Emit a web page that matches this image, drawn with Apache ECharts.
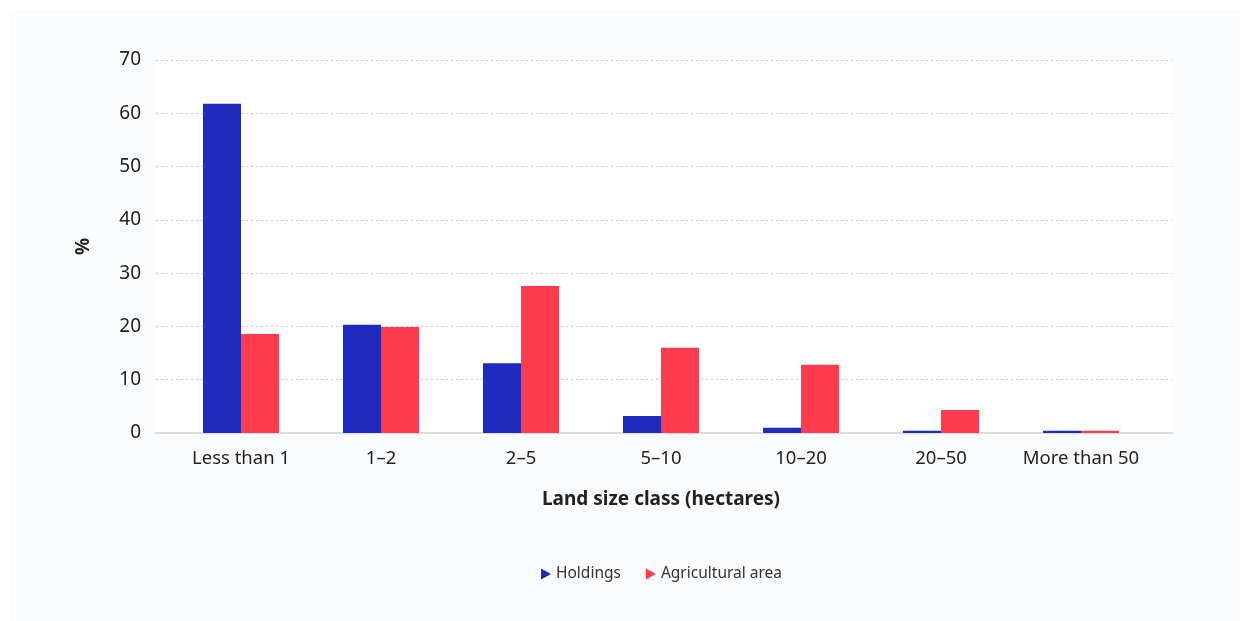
<!DOCTYPE html>
<html>
<head>
<meta charset="utf-8">
<script src="https://cdn.jsdelivr.net/npm/echarts@6/dist/echarts.min.js"></script>
<style>
  html, body { margin: 0; padding: 0; background: #ffffff; }
  #chart { position: absolute; left: 9px; top: 10px; width: 1231px; height: 611px; }
</style>
</head>
<body>
<div id="chart"></div>
<script>
// Share of holdings and agricultural area by land size class
const categories = ['Less than 1', '1–2', '2–5', '5–10', '10–20', '20–50', 'More than 50'];
const holdings = [61.8, 20.3, 13.1, 3.2, 1.0, 0.4, 0.4];
const agriculturalArea = [18.6, 19.9, 27.6, 16.0, 12.8, 4.3, 0.4];
const yTicks = [0, 10, 20, 30, 40, 50, 60, 70];

const FONT = '"Noto Sans", "Open Sans", sans-serif';
const BLUE = '#1e2bbe';
const RED = '#fe3c4d';

const chart = echarts.init(document.getElementById('chart'), null, { renderer: 'canvas' });

const yMin = yTicks[0];
const yMax = yTicks[yTicks.length - 1];
const yStep = yTicks[1] - yTicks[0];

chart.setOption({
  backgroundColor: '#fbfcfe',
  textStyle: { fontFamily: FONT },
  animation: false,
  legend: {
    data: ['Holdings', 'Agricultural area'],
    left: 527,
    top: 551,
    icon: 'path://M0,0L10,5.5L0,11Z',
    itemWidth: 10,
    itemHeight: 12,
    itemGap: 25,
    textStyle: { fontFamily: FONT, fontSize: 15.5, color: '#333333', padding: [0, 0, 0, 0] }
  },
  grid: [
    // outer white panel with dotted gridlines and baseline
    { left: 147, top: 50, width: 1016, height: 373, show: true, backgroundColor: '#ffffff', borderWidth: 0 },
    // inner band holding the categories and bars
    { left: 162, top: 50, width: 980, height: 373 }
  ],
  xAxis: [
    {
      gridIndex: 0, type: 'value', min: 0, max: 1,
      axisLine: { show: true, lineStyle: { color: '#dcdcdc', width: 2 } },
      axisTick: { show: false }, axisLabel: { show: false }, splitLine: { show: false }
    },
    {
      gridIndex: 1, type: 'category', data: categories,
      axisLine: { show: false }, axisTick: { show: false },
      axisLabel: { interval: 0, fontFamily: FONT, fontSize: 18.5, color: '#222222', margin: 16 },
      name: 'Land size class (hectares)',
      nameLocation: 'middle',
      nameGap: 57,
      nameTextStyle: { fontFamily: FONT, fontSize: 19, fontWeight: 'bold', color: '#222222' }
    }
  ],
  yAxis: [
    {
      gridIndex: 0, type: 'value', min: yMin, max: yMax, interval: yStep,
      axisLine: { show: false }, axisTick: { show: false },
      axisLabel: { fontFamily: FONT, fontSize: 19, color: '#222222', margin: 15 },
      splitLine: { show: true, lineStyle: { color: '#c8c8c8', width: 1, type: [2, 3] } },
      name: '%',
      nameLocation: 'middle',
      nameGap: 63,
      nameRotate: 90,
      nameTextStyle: { fontFamily: FONT, fontSize: 19, fontWeight: 'bold', color: '#222222' }
    },
    {
      gridIndex: 1, type: 'value', min: yMin, max: yMax, interval: yStep,
      axisLine: { show: false }, axisTick: { show: false },
      axisLabel: { show: false }, splitLine: { show: false }
    }
  ],
  series: [
    {
      name: 'Holdings', type: 'bar', xAxisIndex: 1, yAxisIndex: 1,
      data: holdings, barWidth: 38, barGap: '0%',
      itemStyle: { color: BLUE }
    },
    {
      name: 'Agricultural area', type: 'bar', xAxisIndex: 1, yAxisIndex: 1,
      data: agriculturalArea, barWidth: 38, barGap: '0%',
      itemStyle: { color: RED }
    }
  ]
});
</script>
</body>
</html>
